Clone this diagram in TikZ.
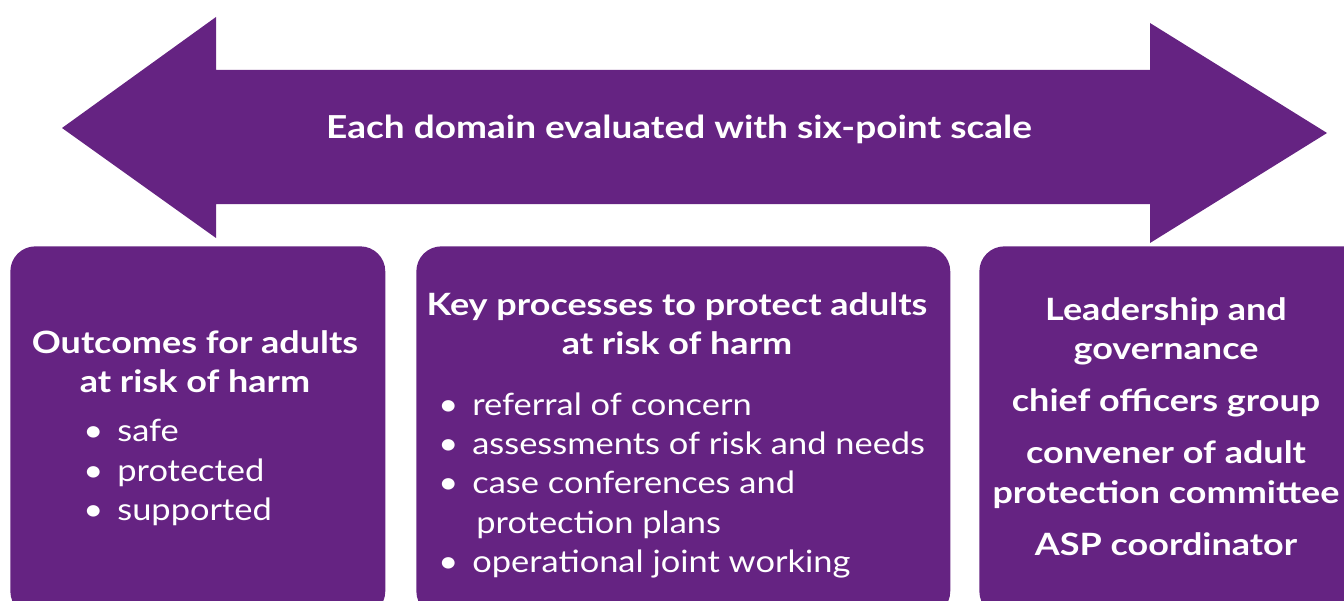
\documentclass[tikz,border=0pt]{standalone}
\usepackage{fontspec}
\setmainfont{Lato}[FakeStretch=1.12, BoldFeatures={FakeStretch=1.17}]
\usetikzlibrary{positioning}
\definecolor{aspPurple}{RGB}{101,35,130}
\tikzstyle{domain_box} = [rectangle, rounded corners=0.5cm, fill=aspPurple, draw=none, anchor=north west, inner sep=0pt]
\tikzstyle{head_text} = [text=white, font=\fontsize{17.5}{22.6}\selectfont\bfseries, align=center, inner sep=0pt]
\tikzstyle{item_text} = [text=white, font=\fontsize{17.5}{22.4}\selectfont, align=left, inner sep=0pt, anchor=north west]
\newcommand{\bitem}[1]{\makebox[0.68cm][l]{\textbullet}#1}

\begin{document}
\begin{tikzpicture}[x=0.02cm, y=-0.02cm]
    \useasboundingbox (0,0) rectangle (1344,601);
    \clip (0,0) rectangle (1344,601);

    % scale arrow
    \fill[aspPurple] (62,128) -- (216,17) -- (216,70) -- (1150,70) -- (1150,23) -- (1327,133)
        -- (1150,243) -- (1150,204) -- (216,204) -- (216,238) -- cycle;
    \node (scale_label) [head_text, font=\fontsize{18}{22.6}\selectfont\bfseries, anchor=base] at (679,139) {Each domain evaluated with six-point scale};

    % domains
    \node (outcomes) [domain_box, minimum width=7.5cm, minimum height=7.4cm] at (10,246) {};
    \node (processes) [domain_box, minimum width=10.68cm, minimum height=7.4cm] at (416,246) {};
    \node (leadership) [domain_box, minimum width=7.9cm, minimum height=7.4cm] at (979,246) {};

    \node (outcomes_head) [head_text, anchor=north] at (195,330) {Outcomes for adults\\at risk of harm};
    \node (outcomes_list) [item_text] at (83,419) {\bitem{safe}\\\bitem{protected}\\\bitem{supported}};

    \node (processes_head) [head_text, anchor=north] at (677,292) {Key processes to protect adults\\at risk of harm};
    \node (processes_list) [item_text] at (438,392) {\bitem{referral of concern}\\\bitem{assessments of risk and needs}\\\bitem{case conferences and}\\\hspace{0.76cm}protection plans\\\bitem{operational joint working}};

    \node (leadership_text) [head_text, anchor=north] at (1166,297) {Leadership and\\governance\\[7pt]chief officers group\\[7pt]convener of adult\\protection committee\\[7pt]ASP coordinator};
\end{tikzpicture}
\end{document}
